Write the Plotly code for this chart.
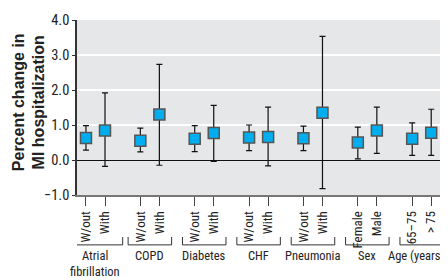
import plotly.graph_objects as go

groups = ["Atrial<br>fibrillation", "COPD", "Diabetes", "CHF", "Pneumonia", "Sex", "Age (years)"]
sub_labels = ["W/out", "With", "W/out", "With", "W/out", "With", "W/out", "With",
              "W/out", "With", "Female", "Male", "65–75", "> 75"]
estimate = [0.63, 0.84, 0.55, 1.30, 0.61, 0.77, 0.64, 0.66, 0.62, 1.35, 0.50, 0.84, 0.61, 0.78]
upper = [0.98, 1.92, 0.91, 2.73, 0.98, 1.56, 1.00, 1.51, 0.97, 3.53, 0.94, 1.51, 1.06, 1.45]
lower = [0.28, -0.18, 0.23, -0.15, 0.24, -0.04, 0.27, -0.17, 0.27, -0.82, 0.03, 0.19, 0.13, 0.13]
y_ticks = [-1, 0, 1, 2, 3, 4]
y_ticktext = ["\u22121.0", "0.0", "1.0", "2.0", "3.0", "4.0"]

FONT = "Liberation Sans Narrow, Roboto Condensed, Arial Narrow, Roboto, sans-serif"
FONT_B = "Liberation Sans, Arial, sans-serif"

off = 0.175
xs = []
for i in range(len(sub_labels)):
    g = i // 2
    xs.append(g - off if i % 2 == 0 else g + off)

fig = go.Figure()
fig.add_trace(go.Scatter(
    x=xs, y=estimate, mode="markers",
    marker=dict(symbol="square", size=11, color="#00aeef",
                line=dict(color="#555555", width=1.5)),
    error_y=dict(type="data", symmetric=False,
                 array=[u - e for u, e in zip(upper, estimate)],
                 arrayminus=[e - l for e, l in zip(estimate, lower)],
                 color="#111111", thickness=1.2, width=3),
    showlegend=False, cliponaxis=False,
))

shapes = []
for g in range(len(groups)):
    half = 0.5 if g == 0 else 0.4
    x0, x1 = g - half, g + half
    ytop, ybot = -0.24, -0.285
    shapes.append(dict(type="line", xref="x", yref="paper", x0=x0, x1=x1, y0=ybot, y1=ybot,
                       line=dict(color="#333333", width=1)))
    shapes.append(dict(type="line", xref="x", yref="paper", x0=x0, x1=x0, y0=ytop, y1=ybot,
                       line=dict(color="#333333", width=1)))
    shapes.append(dict(type="line", xref="x", yref="paper", x0=x1, x1=x1, y0=ytop, y1=ybot,
                       line=dict(color="#333333", width=1)))

annotations = []
for g, name in enumerate(groups):
    for k, line in enumerate(name.split("<br>")):
        annotations.append(dict(x=g, xref="x", y=-0.295, yref="paper", text=line,
                                showarrow=False, yanchor="top", xanchor="center",
                                borderpad=0,
                                xshift=-5 if g == len(groups) - 1 else 0,
                                yshift=-16 * k,
                                font=dict(family=FONT, size=12.5, color="#222222")))
annotations.append(dict(x=-0.131, xref="paper", y=0.53, yref="paper",
                        text="<b>Percent change in<br>MI hospitalization</b>",
                        textangle=-90, showarrow=False, xanchor="center", yanchor="middle",
                        font=dict(family=FONT_B, size=16, color="#222222")))

fig.update_layout(
    width=440, height=272,
    margin=dict(l=69, r=4, t=8, b=85),
    paper_bgcolor="white", plot_bgcolor="#e6e7e9",
    font=dict(family=FONT, color="#222222"),
    shapes=shapes, annotations=annotations,
    xaxis=dict(range=[-0.34, 6.41], tickvals=xs, ticktext=sub_labels, tickangle=-90,
               ticks="outside", ticklen=9, tickcolor="#444444", tickwidth=1,
               tickfont=dict(family=FONT, size=13, color="#222222"),
               showgrid=False, zeroline=False, showline=True, linecolor="#777777", linewidth=2),
    yaxis=dict(range=[-1, 4], tickvals=y_ticks, ticktext=y_ticktext,
               ticks="outside", ticklen=3, tickcolor="#333333",
               ticklabeloverflow="allow",
               tickfont=dict(family=FONT, size=14.5, color="#222222"),
               showgrid=True, gridcolor="white", gridwidth=1.5,
               zeroline=True, zerolinecolor="#111111", zerolinewidth=1.2,
               showline=True, linecolor="#333333", linewidth=1.5),
)

fig.write_html("out.html")
